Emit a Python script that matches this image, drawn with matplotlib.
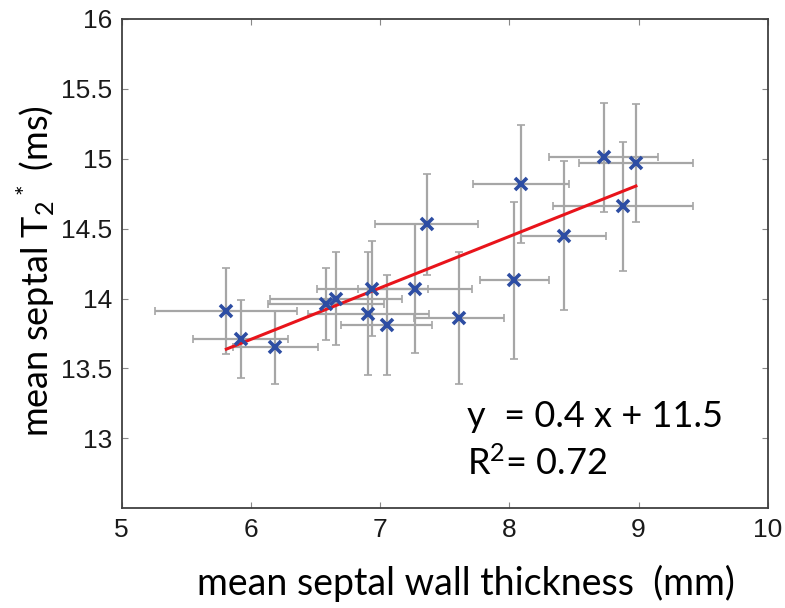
import matplotlib
matplotlib.use("Agg")
from matplotlib import pyplot as plt
import numpy as np

# wall thickness (mm) and T2* (ms) per subject, with spread
thickness = [5.81, 5.92, 6.19, 6.58, 6.66, 6.91, 6.94, 7.05, 7.27, 7.36, 7.61, 8.04, 8.09, 8.42, 8.73, 8.88, 8.98]
t2star = [13.91, 13.71, 13.65, 13.96, 14.00, 13.89, 14.07, 13.81, 14.07, 14.53, 13.86, 14.13, 14.82, 14.45, 15.01, 14.66, 14.97]
thickness_err = [0.55, 0.37, 0.33, 0.45, 0.51, 0.47, 0.43, 0.35, 0.44, 0.40, 0.35, 0.27, 0.37, 0.33, 0.42, 0.54, 0.44]
t2star_err = [0.31, 0.28, 0.26, 0.26, 0.33, 0.44, 0.34, 0.36, 0.46, 0.36, 0.47, 0.56, 0.42, 0.53, 0.39, 0.46, 0.42]

# fitted line as drawn in the figure
fit_slope = 0.368
fit_intercept = 11.5

x_ticks = [5, 6, 7, 8, 9, 10]
y_ticks = [13, 13.5, 14, 14.5, 15, 15.5, 16]

plt.rcParams["mathtext.fontset"] = "custom"
plt.rcParams["mathtext.rm"] = "Lato"
plt.rcParams["mathtext.it"] = "Lato"

fig = plt.figure(figsize=(7.85, 6.08), dpi=100)
ax = fig.add_axes([0.155, 0.164, 0.823, 0.805])

ax.errorbar(thickness, t2star, xerr=thickness_err, yerr=t2star_err, fmt="none",
            ecolor="#a6a6a6", elinewidth=1.6, capsize=3, capthick=1.2, zorder=1)

xs = np.array([min(thickness), max(thickness)])
ax.plot(xs, fit_slope * xs + fit_intercept, color="#e8141b", lw=2.2, zorder=2)

ax.plot(thickness, t2star, "x", color="#2d4da3", ms=8, mew=2.6, zorder=3)

ax.set_xlim(5, 10)
ax.set_ylim(12.5, 16)
ax.set_xticks(x_ticks)
ax.set_xticklabels([str(t) for t in x_ticks])
ax.set_yticks(y_ticks)
ax.set_yticklabels([f"{t:g}" for t in y_ticks])
ax.tick_params(direction="in", top=True, right=True, length=4, width=0.8, color="#888888",
               labelsize=19, labelcolor="#1a1a1a", pad=7)
for lab in ax.get_xticklabels() + ax.get_yticklabels():
    lab.set_fontfamily("Liberation Sans")
for s in ax.spines.values():
    s.set_color("#404040")
    s.set_linewidth(1.3)

ax.set_xlabel("mean septal wall thickness  (mm)", fontsize=27, family="Lato")
ax.xaxis.set_label_coords(0.533, -0.115)
ax.set_ylabel(r"mean septal T$_2$$^*$ (ms)", fontsize=26, family="Lato")
ax.yaxis.set_label_coords(-0.10, 0.485)

ax.text(7.67, 13.08, "y  = 0.4 x + 11.5", fontsize=26, family="Lato", va="baseline")
ax.text(7.67, 12.74, r"R$^2$= 0.72", fontsize=26, family="Lato", va="baseline")

fig.savefig("out.png", dpi=100)
